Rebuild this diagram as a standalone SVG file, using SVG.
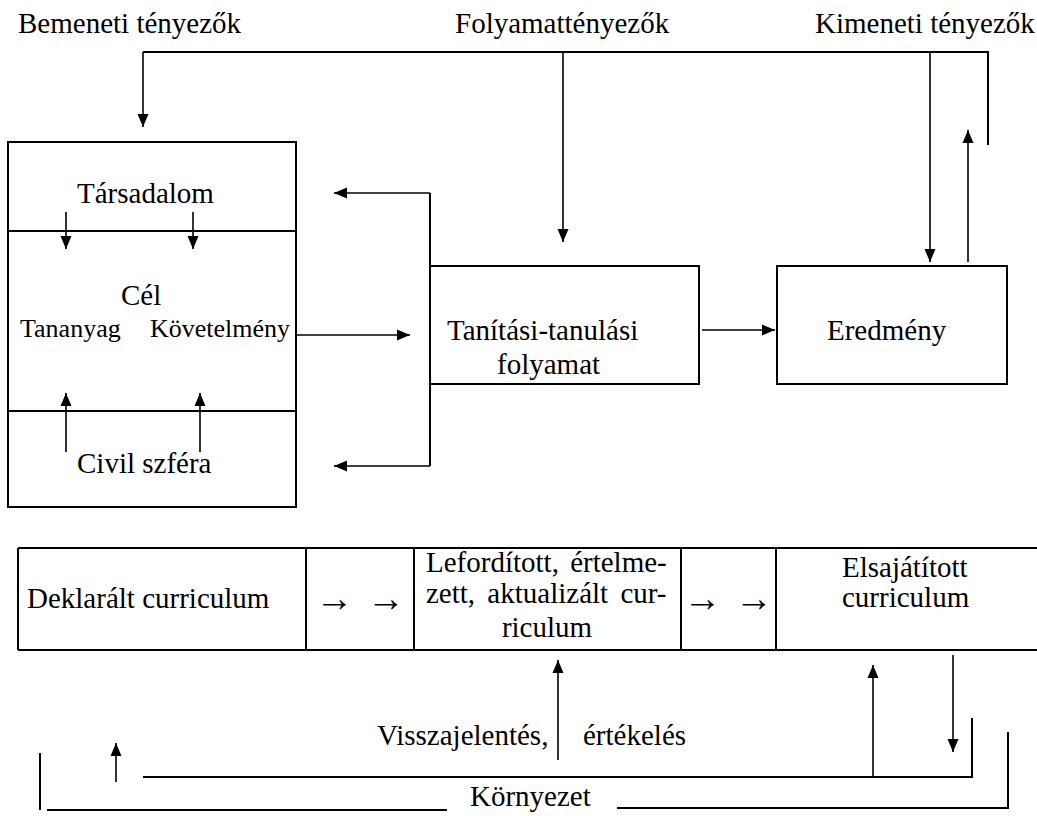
<svg xmlns="http://www.w3.org/2000/svg" width="1037" height="816" viewBox="0 0 1037 816">
<style>
text{font-family:'Liberation Serif','Times New Roman',serif;font-size:29px;fill:#000}
.sm{font-size:26px}
.mid{text-anchor:middle}
.arr{font-size:38px;word-spacing:4px}
.box{fill:none;stroke:#000;stroke-width:2}
.ln{fill:none;stroke:#000;stroke-width:2}
.ar{fill:none;stroke:#000;stroke-width:1.6;marker-end:url(#ah)}
</style>
<defs>
<marker id="ah" markerUnits="userSpaceOnUse" markerWidth="14" markerHeight="14" viewBox="0 0 14 14" refX="13" refY="7" orient="auto">
<path d="M0,1.5 L13,7 L0,12.5 Z" fill="#000"/>
</marker>
</defs>
<rect width="1037" height="816" fill="#fff"/>

<g id="titles">
<text x="18" y="33">Bemeneti tényezők</text>
<text x="455" y="33">Folyamattényezők</text>
<text x="815" y="33">Kimeneti tényezők</text>
</g>

<g id="node-left">
<rect class="box" x="8" y="142" width="288" height="365"/>
<line class="ln" x1="8" y1="231" x2="296" y2="231"/>
<line class="ln" x1="8" y1="411" x2="296" y2="411"/>
<text x="77" y="203">Társadalom</text>
<text x="121" y="305">Cél</text>
<text class="sm" x="20" y="337">Tananyag</text>
<text class="sm" x="150" y="337">Követelmény</text>
<text x="77" y="473">Civil szféra</text>
</g>

<g id="node-process">
<rect class="box" x="430" y="266" width="269" height="118"/>
<text x="447" y="340">Tanítási-tanulási</text>
<text x="497" y="374">folyamat</text>
</g>

<g id="node-result">
<rect class="box" x="777" y="266" width="230" height="118"/>
<text x="827" y="340">Eredmény</text>
</g>

<g id="node-table">
<line class="ln" x1="18" y1="548" x2="1037" y2="548"/>
<line class="ln" x1="18" y1="650" x2="1037" y2="650"/>
<line class="ln" x1="18" y1="548" x2="18" y2="650"/>
<line class="ln" x1="306" y1="548" x2="306" y2="650"/>
<line class="ln" x1="414" y1="548" x2="414" y2="650"/>
<line class="ln" x1="681" y1="548" x2="681" y2="650"/>
<line class="ln" x1="776" y1="548" x2="776" y2="650"/>
<text x="27" y="608">Deklarált curriculum</text>
<text class="mid arr" x="360" y="611">→ →</text>
<text x="426" y="572" word-spacing="4">Lefordított, értelme-</text>
<text x="426" y="603" word-spacing="5">zett, aktualizált cur-</text>
<text class="mid" x="547" y="637">riculum</text>
<text class="mid arr" x="728" y="611">→ →</text>
<text x="842" y="577">Elsajátított</text>
<text x="842" y="607">curriculum</text>
</g>

<g id="labels-bottom">
<text x="377" y="745">Visszajelentés,</text>
<text x="583" y="745">értékelés</text>
<text x="470" y="806">Környezet</text>
</g>

<g id="connectors">
<polyline class="ln" points="143,52 988,52 988,145"/>
<line class="ar" x1="143" y1="52" x2="143" y2="127"/>
<line class="ar" x1="563" y1="52" x2="563" y2="242"/>
<line class="ar" x1="930" y1="52" x2="930" y2="262"/>
<line class="ar" x1="968" y1="262" x2="968" y2="130"/>
<line class="ar" x1="66" y1="212" x2="66" y2="249"/>
<line class="ar" x1="193" y1="212" x2="193" y2="249"/>
<line class="ar" x1="66" y1="452" x2="66" y2="393"/>
<line class="ar" x1="200" y1="452" x2="200" y2="393"/>
<line class="ar" x1="296" y1="335" x2="410" y2="335"/>
<line class="ln" x1="430" y1="193" x2="430" y2="466"/>
<line class="ar" x1="430" y1="193" x2="334" y2="193"/>
<line class="ar" x1="430" y1="466" x2="334" y2="466"/>
<line class="ar" x1="702" y1="330" x2="775" y2="330"/>
<line class="ar" x1="558" y1="760" x2="558" y2="660"/>
<polyline class="ln" points="143,777 972,777 972,718"/>
<line class="ar" x1="873" y1="777" x2="873" y2="665"/>
<line class="ar" x1="953" y1="655" x2="953" y2="752"/>
<line class="ar" x1="116" y1="782" x2="116" y2="743"/>
<line class="ln" x1="40" y1="753" x2="40" y2="810"/>
<line class="ln" x1="47" y1="810" x2="447" y2="810"/>
<polyline class="ln" points="617,808 1008,808 1008,732"/>
</g>
</svg>
